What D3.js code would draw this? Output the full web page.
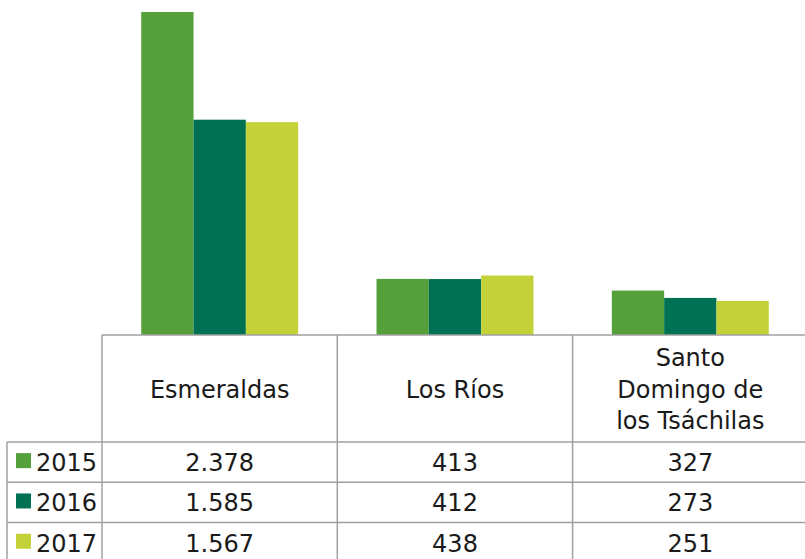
<!DOCTYPE html>
<html>
<head>
    <title>Esmeraldas, Los Ríos, Santo Domingo</title>
    <script src="https://d3js.org/d3.v7.min.js"></script>
    <style>
        html, body {
            margin: 0;
            padding: 0;
            background-color: white;
        }
        #chart text {
            font-family: "DejaVu Sans", sans-serif;
            fill: #1a1a1a;
        }
    </style>
</head>
<body>
<div id="chart"></div>
<script>
    // Data
    const categories = ['Esmeraldas', 'Los Ríos', 'Santo Domingo de los Tsáchilas'];
    const categoryLines = [['Esmeraldas'], ['Los Ríos'], ['Santo', 'Domingo de', 'los Tsáchilas']];
    const years = ['2015', '2016', '2017'];
    const values2015 = [2378, 413, 327];
    const values2016 = [1585, 412, 273];
    const values2017 = [1567, 438, 251];
    const seriesValues = [values2015, values2016, values2017];
    const seriesColors = ['#56a03b', '#007152', '#c4d23a'];

    const width = 805;
    const height = 559;
    const baseline = 335;   // bottom of bars / top of table
    const tableLeft = 102;  // left of category columns
    const legendLeft = 7;
    const headerBottom = 442;
    const rowHeight = 40.3;
    const lineColor = '#a0a0a0';

    // Spanish style thousands separator
    const locale = d3.formatLocale({decimal: ',', thousands: '.', grouping: [3], currency: ['', '']});
    const fmt = locale.format(',d');

    const svg = d3.select('#chart')
        .append('svg')
        .attr('width', width)
        .attr('height', height);

    const x0 = d3.scaleBand()
        .domain(categories)
        .range([tableLeft, 808])
        .paddingInner(0.333)
        .paddingOuter(0.1667);

    const x1 = d3.scaleBand()
        .domain(years)
        .range([0, x0.bandwidth()]);

    const y = d3.scaleLinear()
        .domain([0, 2500])
        .range([baseline, baseline - 339.6]);

    // bars
    const groups = svg.selectAll('.group')
        .data(categories)
        .enter()
        .append('g')
        .attr('class', 'group')
        .attr('transform', d => `translate(${x0(d)},0)`);

    groups.selectAll('rect')
        .data((d, ci) => years.map((yr, si) => ({year: yr, value: seriesValues[si][ci], color: seriesColors[si]})))
        .enter()
        .append('rect')
        .attr('x', d => x1(d.year))
        .attr('y', d => y(d.value))
        .attr('width', x1.bandwidth())
        .attr('height', d => baseline - y(d.value))
        .style('fill', d => d.color);

    // table grid
    const step = x0.step();
    const colEdges = categories.map((c, i) => tableLeft + step * i);

    svg.append('line')
        .attr('x1', tableLeft).attr('x2', width)
        .attr('y1', baseline).attr('y2', baseline)
        .attr('stroke', lineColor).attr('stroke-width', 1.5);

    years.forEach((yr, i) => {
        const yy = headerBottom + rowHeight * i;
        svg.append('line')
            .attr('x1', legendLeft).attr('x2', width)
            .attr('y1', yy).attr('y2', yy)
            .attr('stroke', lineColor).attr('stroke-width', 1.5);
    });

    colEdges.forEach(xx => {
        svg.append('line')
            .attr('x1', xx).attr('x2', xx)
            .attr('y1', baseline).attr('y2', height)
            .attr('stroke', lineColor).attr('stroke-width', 1.5);
    });

    svg.append('line')
        .attr('x1', legendLeft).attr('x2', legendLeft)
        .attr('y1', headerBottom).attr('y2', height)
        .attr('stroke', lineColor).attr('stroke-width', 1.5);

    // category header
    const headerMid = (baseline + headerBottom) / 2;
    const lineGap = 31.5;
    categories.forEach((c, i) => {
        const lines = categoryLines[i];
        const cx = x0(c) + x0.bandwidth() / 2;
        const t = svg.append('text')
            .attr('text-anchor', 'middle')
            .style('font-size', '24px');
        lines.forEach((ln, j) => {
            t.append('tspan')
                .attr('x', cx)
                .attr('y', headerMid + 9 + (j - (lines.length - 1) / 2) * lineGap)
                .text(ln);
        });
    });

    // rows: legend key + values
    years.forEach((yr, si) => {
        const mid = headerBottom + rowHeight * si + rowHeight / 2;
        svg.append('rect')
            .attr('x', 16)
            .attr('y', mid - 9)
            .attr('width', 15)
            .attr('height', 15)
            .style('fill', seriesColors[si]);
        svg.append('text')
            .attr('x', 36)
            .attr('y', mid + 9)
            .style('font-size', '24px')
            .text(yr);

        categories.forEach((c, ci) => {
            svg.append('text')
                .attr('x', x0(c) + x0.bandwidth() / 2)
                .attr('y', mid + 9)
                .attr('text-anchor', 'middle')
                .style('font-size', '24px')
                .text(fmt(seriesValues[si][ci]));
        });
    });
</script>
</body>
</html>
